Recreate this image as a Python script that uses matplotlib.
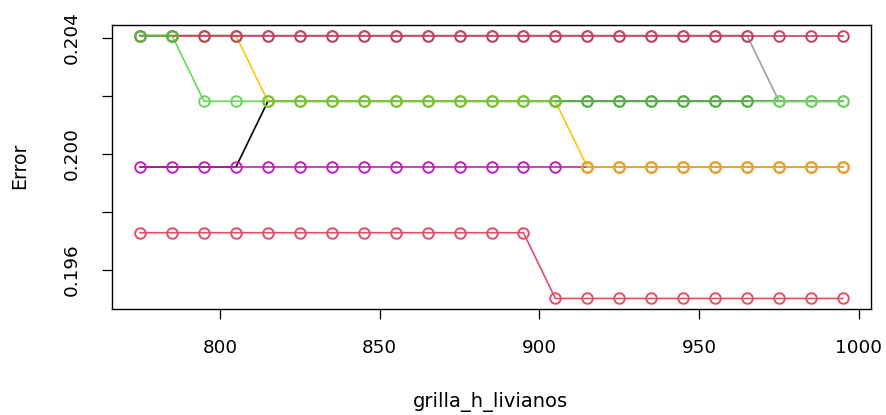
import numpy as np
import matplotlib
matplotlib.use("Agg")
import matplotlib.pyplot as plt

plt.rcParams['font.family'] = ['DejaVu Sans']

# grid of grilla_h_livianos values
grilla_h_livianos = [775, 785, 795, 805, 815, 825, 835, 845, 855, 865, 875, 885,
                     895, 905, 915, 925, 935, 945, 955, 965, 975, 985, 995]
n_test = 441
nan = np.nan

# misclassified cases out of n_test, one list per run (drawn in this order)
fallos_negro = [88, 88, 88, 88, 89, 89, 89, 89, 89, 89, 89, 89,
                89, 89, 89, 89, 89, 89, 89, 89, 89, 89, 89]
fallos_rojo = [87, 87, 87, 87, 87, 87, 87, 87, 87, 87, 87, 87,
               87, 86, 86, 86, 86, 86, 86, 86, 86, 86, 86]
fallos_morado = [88, 88, 88, 88, 88, 88, 88, 88, 88, 88, 88, 88,
                 88, 88, 88, 88, 88, 88, 88, 88, 88, 88, 88]
fallos_amarillo = [90, 90, 90, 90, 89, 89, 89, 89, 89, 89, 89, 89,
                   89, 89, 88, 88, 88, 88, 88, 88, 88, 88, 88]
fallos_naranja = [nan, nan, nan, nan, nan, nan, nan, nan, nan, nan, nan, nan,
                  nan, nan, 88, 88, 88, 88, 88, 88, 88, 88, 88]
fallos_gris = [90, 90, 90, 90, 90, 90, 90, 90, 90, 90, 90, 90,
               90, 90, 90, 90, 90, 90, 90, 90, 89, 89, 89]
fallos_granate = [90, 90, 90, 90, 90, 90, 90, 90, 90, 90, 90, 90,
                  90, 90, 90, 90, 90, 90, 90, 90, 90, 90, 90]
fallos_verde = [90, 90, 89, 89, 89, 89, 89, 89, 89, 89, 89, 89,
                89, 89, 89, 89, 89, 89, 89, 89, 89, 89, 89]
fallos_verde_osc = [nan, nan, nan, nan, nan, nan, nan, nan, nan, nan, nan, nan,
                    nan, 89, 89, 89, 89, 89, 89, 89, nan, nan, nan]
fallos_verde_lima = [nan, nan, nan, nan, 89, 89, 89, 89, 89, 89, 89, 89,
                     89, 89, nan, nan, nan, nan, nan, nan, nan, nan, nan]
fallos_verde_ini = [90, 90, nan, nan, nan, nan, nan, nan, nan, nan, nan, nan,
                    nan, nan, nan, nan, nan, nan, nan, nan, nan, nan, nan]

series = [
    (fallos_negro, "#000000", None),
    (fallos_rojo, "#E0506A", 'o'),
    (fallos_morado, "#C21CBE", 'o'),
    (fallos_amarillo, "#F5C710", 'o'),
    (fallos_naranja, "#E8A52E", 'o'),
    (fallos_gris, "#9E9E9E", 'o'),
    (fallos_granate, "#BF4460", 'o'),
    (fallos_verde, "#6DD45C", 'o'),
    (fallos_verde_osc, "#57A847", 'o'),
    (fallos_verde_lima, "#7CC242", 'o'),
    (fallos_verde_ini, "#62AC46", 'o'),
]

W, H = 886, 415
fig = plt.figure(figsize=(W / 100, H / 100), dpi=100)
ax = fig.add_axes([112 / W, 1 - 309 / H, (871 - 112) / W, (309 - 25) / H])

for fallos, color, mk in series:
    err = np.array(fallos, dtype=float) / n_test
    ax.plot(grilla_h_livianos, err, color=color, lw=1.2, marker=mk, ms=7.6,
            mfc='none', mec=color, mew=1.4)

# R-style 4% padding around the data range
x0, x1 = min(grilla_h_livianos), max(grilla_h_livianos)
y0, y1 = 86 / n_test, 90 / n_test
ax.set_xlim(x0 - 0.04 * (x1 - x0), x1 + 0.04 * (x1 - x0))
ax.set_ylim(y0 - 0.04 * (y1 - y0), y1 + 0.04 * (y1 - y0))

ax.set_xticks([800, 850, 900, 950, 1000])
ax.set_yticks([0.196, 0.198, 0.200, 0.202, 0.204])
ax.set_yticklabels(['0.196', '', '0.200', '', '0.204'], rotation=90, va='center')
ax.tick_params(direction='out', length=7.5, width=0.9, labelsize=13.2)
ax.tick_params(axis='x', pad=14)
ax.tick_params(axis='y', pad=15)
for s in ax.spines.values():
    s.set_linewidth(1.0)

fig.text(490 / W, 1 - 402 / H, "grilla_h_livianos", ha='center', va='center', fontsize=14)
fig.text(20 / W, 1 - 166 / H, "Error", ha='center', va='center', rotation=90, fontsize=13.6)

fig.savefig("out.png", dpi=100)
